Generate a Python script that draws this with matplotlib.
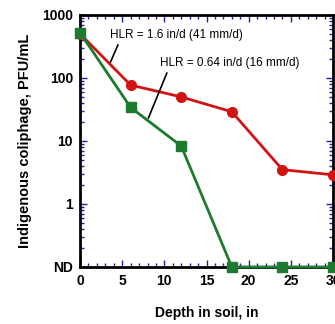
import matplotlib.pyplot as plt
from matplotlib.ticker import FixedLocator, LogLocator, MultipleLocator, NullFormatter

plt.rcParams['font.family'] = ['Liberation Sans', 'DejaVu Sans']

depth = [0, 6, 12, 18, 24, 30]
hlr_16 = [500, 77, 50, 29, 3.5, 2.9]
hlr_064 = [520, 34, 8.3, 0.1, 0.1, 0.1]
yticks = [0.1, 1, 10, 100, 1000]
ylabels = ['ND', '1', '10', '100', '1000']
xticks = [0, 5, 10, 15, 20, 25, 30]

fig = plt.figure(figsize=(3.35, 3.24), dpi=100)
ax = fig.add_axes([0.239, 0.176, 0.755, 0.778])

ax.plot(depth, hlr_16, color='#d01414', lw=2, marker='o', ms=7, clip_on=False, zorder=3)
ax.plot(depth, hlr_064, color='#1d7a2e', lw=2, marker='s', ms=7, clip_on=False, zorder=3)

ax.set_yscale('log')
ax.set_ylim(0.1, 1000)
ax.set_xlim(0, 30)
ax.yaxis.set_major_locator(FixedLocator(yticks))
ax.set_yticklabels(ylabels)
ax.yaxis.set_minor_locator(LogLocator(base=10, subs=range(2, 10)))
ax.yaxis.set_minor_formatter(NullFormatter())
ax.set_xticks(xticks)
ax.xaxis.set_minor_locator(MultipleLocator(1))

for s in ax.spines.values():
    s.set_linewidth(2)
ax.tick_params(which='both', direction='in', top=True, right=True, color='#2020a0')
ax.tick_params(which='major', length=5, width=1, labelsize=10, pad=5)
ax.tick_params(which='minor', length=3, width=1)
for lab in ax.get_xticklabels() + ax.get_yticklabels():
    lab.set_fontweight('bold')

ax.set_xlabel('Depth in soil, in', fontsize=10, fontweight='bold', labelpad=13)
ax.set_ylabel('Indigenous coliphage, PFU/mL', fontsize=10.5, fontweight='bold', labelpad=7)

# annotation labels with leader lines
ax.text(3.5, 480, 'HLR = 1.6 in/d (41 mm/d)', fontsize=8.5, va='center', ha='left')
ax.annotate('', xy=(3.6, 178), xytext=(4.5, 335),
            arrowprops=dict(arrowstyle='-', color='black', lw=1.2, shrinkA=0, shrinkB=0))
ax.text(9.5, 172, 'HLR = 0.64 in/d (16 mm/d)', fontsize=8.5, va='center', ha='left')
ax.annotate('', xy=(8.1, 23), xytext=(10.3, 120),
            arrowprops=dict(arrowstyle='-', color='black', lw=1.2, shrinkA=0, shrinkB=0))

fig.savefig('out.png', dpi=100)
